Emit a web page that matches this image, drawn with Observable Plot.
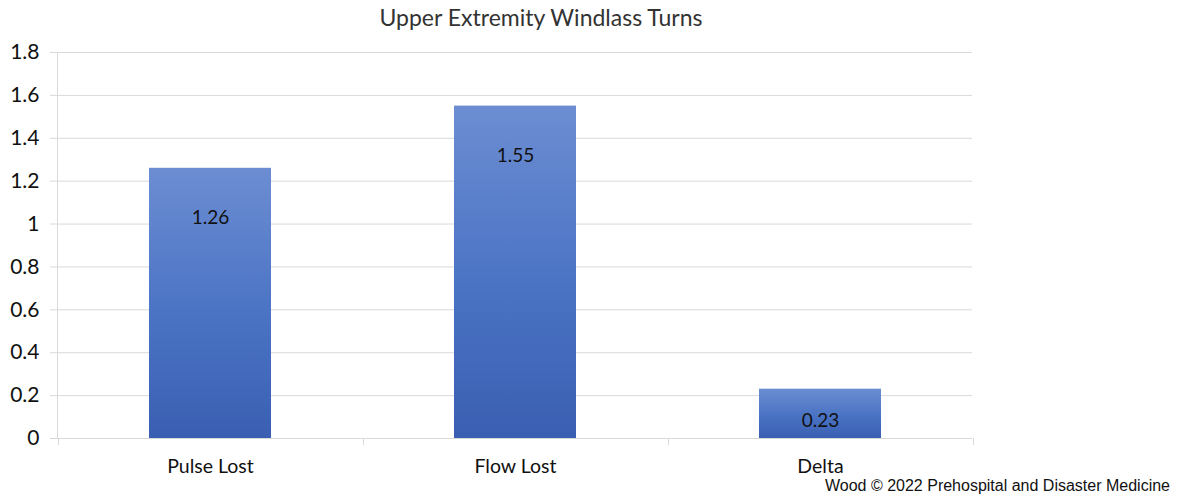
<!DOCTYPE html>
<html>
<head>
<meta charset="utf-8">
<script src="https://cdn.jsdelivr.net/npm/d3@7"></script>
<script src="https://cdn.jsdelivr.net/npm/@observablehq/plot@0.6"></script>
<style>
  html, body { margin: 0; padding: 0; background: #fff; }
  #wrap { position: relative; width: 1183px; height: 497px; overflow: hidden; background: #fff; }
  #title { position: absolute; top: 3px; left: 0; width: 1082px; text-align: center; z-index: 1;
           font-family: Lato, "Open Sans", sans-serif; font-size: 23px; color: #333; }
  #chart { position: absolute; top: 28px; left: 0; }
  #caption { position: absolute; top: 477px; right: 13px; z-index: 1;
             font-family: "Liberation Sans", Arial, sans-serif; font-size: 16px; color: #111; }
</style>
</head>
<body>
<div id="wrap">
  <div id="title">Upper Extremity Windlass Turns</div>
  <div id="chart"></div>
  <div id="caption">Wood © 2022 Prehospital and Disaster Medicine</div>
</div>
<script>
// Mean windlass turns, upper extremity
const categories = ["Pulse Lost", "Flow Lost", "Delta"];
const turns = [1.26, 1.55, 0.23];
const yTicks = [0, 0.2, 0.4, 0.6, 0.8, 1, 1.2, 1.4, 1.6, 1.8];

const data = categories.map((c, i) => ({category: c, value: turns[i]}));

const gridColor = "#d9d9d9";
const fontFamily = "Lato, 'Open Sans', sans-serif";

const plot = Plot.plot({
  width: 1183,
  height: 450,
  marginTop: 24,
  marginBottom: 40,
  marginLeft: 57,
  marginRight: 211,
  style: {fontFamily, fontSize: "19px", color: "#111", background: "transparent"},
  x: {domain: categories, paddingInner: 0.6, paddingOuter: 0.3, label: null},
  y: {domain: [0, 1.8], label: null},
  marks: [
    Plot.ruleY(yTicks, {stroke: gridColor, strokeWidth: 1}),
    Plot.barY(data, {x: "category", y: "value", fill: "url(#barGradient)"}),
    Plot.text(data, {
      x: "category",
      y: d => Math.max(d.value - 0.23, 0.08),
      text: d => d.value.toFixed(2),
      fill: "#111",
      fontSize: 19
    }),
    Plot.axisY(yTicks, {tickSize: 7, tickPadding: 11, stroke: gridColor, fill: "#111",
                        tickFormat: d => String(d), fontSize: 21}),
    Plot.axisX({tickSize: 0, tickPadding: 21, fontSize: 19.5, fill: "#111"})
  ]
});

document.getElementById("chart").appendChild(plot);

const svg = d3.select(plot);

// Vertical gradient for each bar: lighter at the top, deeper blue at the base
const defs = svg.insert("defs", ":first-child");
const grad = defs.append("linearGradient")
  .attr("id", "barGradient")
  .attr("x1", 0).attr("y1", 0).attr("x2", 0).attr("y2", 1);
grad.append("stop").attr("offset", "0%").attr("stop-color", "#6c8dd2");
grad.append("stop").attr("offset", "55%").attr("stop-color", "#4a73c4");
grad.append("stop").attr("offset", "100%").attr("stop-color", "#3a5fb2");

// Axis lines and category-boundary ticks, positioned by the plot's scales
const xs = plot.scale("x");
const ys = plot.scale("y");
const y0 = ys.apply(0), yTop = ys.apply(1.8);
const left = xs.range[0], right = xs.range[1];
const g = svg.append("g").attr("stroke", gridColor).attr("stroke-width", 1);
g.append("line").attr("x1", left + 0.5).attr("x2", left + 0.5).attr("y1", yTop).attr("y2", y0);
g.append("line").attr("x1", left - 7).attr("x2", right).attr("y1", y0 + 0.5).attr("y2", y0 + 0.5);
const step = xs.step;
const b0 = xs.apply(categories[0]) - step * xs.paddingOuter;
for (let i = 0; i <= categories.length; i++) {
  const bx = Math.round(b0 + i * step) + 0.5;
  g.append("line").attr("x1", bx).attr("x2", bx).attr("y1", y0).attr("y2", y0 + 7);
}
</script>
</body>
</html>
